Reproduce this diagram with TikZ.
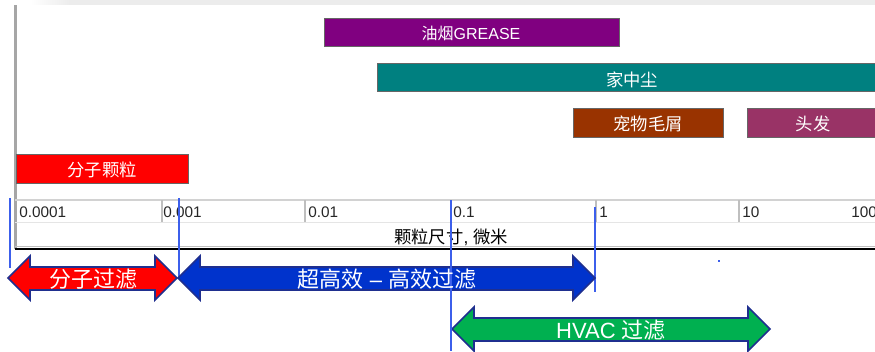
\documentclass[tikz,border=0pt]{standalone}
\usepackage{fontspec}
\setmainfont{Liberation Sans}
\newfontfamily\cjk{Noto Sans CJK SC}
\definecolor{greasecol}{RGB}{128,0,128}
\definecolor{dustcol}{RGB}{0,128,128}
\definecolor{dandercol}{RGB}{153,51,0}
\definecolor{haircol}{RGB}{153,51,102}
\definecolor{molcol}{RGB}{255,0,0}
\definecolor{hepacol}{RGB}{0,51,204}
\definecolor{hvaccol}{RGB}{0,176,80}
\definecolor{arrowrim}{RGB}{31,47,143}
\definecolor{guideblue}{RGB}{60,95,235}
\begin{document}
\begin{tikzpicture}[x=0.75pt,y=0.75pt,yscale=-1,xscale=1,
  bar/.style={draw=black!60, line width=0.7pt},
  bartext/.style={text=white, font=\fontsize{13}{15}\selectfont, inner sep=0pt},
  ticklabel/.style={anchor=west, font=\fontsize{11.5}{13}\selectfont, inner sep=0pt, text=black!85},
  band/.style={draw=arrowrim, line width=1.3pt, line join=miter},
  bandtext/.style={text=white, font=\fontsize{16.5}{19}\selectfont, inner sep=0pt},
  guide/.style={draw=guideblue, line width=0.9pt}]
\useasboundingbox (0,0) rectangle (875,351);
%Top band
\shade [left color=white, right color=gray!15] (30,0) rectangle (70,4.5) ;
\fill [gray!15] (70,0) rectangle (875,4.5) ;
%Straight Lines (axis)
\draw [gray!70, line width=2.2pt] (15.5,5) -- (15.5,249) ;
%Straight Lines (scale box)
\draw [gray!35, line width=1.5pt] (15,200) -- (875,200) ;
\draw [gray!20, line width=0.75pt] (15,222) -- (875,222) ;
\draw [gray!50, line width=0.75pt] (15,246.5) -- (875,246.5) ;
\draw [black, line width=1.5pt] (15,249) -- (875,249) ;
%Straight Lines (decade ticks)
\draw [gray!50, line width=0.9pt] (162,200) -- (162,222) ;
\draw [gray!50, line width=0.9pt] (305,200) -- (305,222) ;
\draw [gray!50, line width=0.9pt] (451,200) -- (451,222) ;
\draw [gray!50, line width=0.9pt] (596,200) -- (596,222) ;
\draw [gray!50, line width=0.9pt] (739,200) -- (739,222) ;
%Shape: Rectangle
\draw [bar, fill=greasecol] (324,18) rectangle (619,46) ;
%Shape: Rectangle
\draw [bar, fill=dustcol] (377,63) rectangle (876,91) ;
%Shape: Rectangle
\draw [bar, fill=dandercol] (573,108) rectangle (723,137) ;
%Shape: Rectangle
\draw [bar, fill=haircol] (747,108) rectangle (876,137) ;
%Shape: Rectangle
\draw [bar, fill=molcol] (16,154) rectangle (188,183) ;
% Text Node
\node [bartext, font=\fontsize{12}{14}\selectfont] (grease) at (471,33) {{\cjk 油烟}GREASE};
% Text Node
\node [bartext] (dust) at (632,80) {\cjk 家中尘};
% Text Node
\node [bartext] (dander) at (648,124) {\cjk 宠物毛屑};
% Text Node
\node [bartext] (hair) at (813,124) {\cjk 头发};
% Text Node
\node [bartext] (molecule) at (102,170) {\cjk 分子颗粒};
% Text Node
\node [ticklabel] (t0) at (19,212) {0.0001};
\node [ticklabel] (t1) at (163,212) {0.001};
\node [ticklabel] (t2) at (308,212) {0.01};
\node [ticklabel] (t3) at (453,212) {0.1};
\node [ticklabel] (t4) at (599,212) {1};
\node [ticklabel] (t5) at (742,212) {10};
\node [ticklabel] (t6) at (851,212) {100};
% Text Node
\node [font=\fontsize{13}{15}\selectfont, inner sep=0pt] (axislabel) at (451,237) {{\cjk 颗粒尺寸}, {\cjk 微米}};
%Straight Lines (guides)
\draw [guide] (10,198) -- (10,268) ;
\draw [guide] (179,198) -- (179,278) ;
\draw [guide] (595,207) -- (595,292) ;
%Shape: Left-Right Arrow
\draw [band, fill=molcol] (8,278) -- (30,256) -- (30,267) -- (155,267) -- (155,256) -- (177,278) -- (155,300) -- (155,290) -- (30,290) -- (30,300) -- cycle ;
%Shape: Left-Right Arrow
\draw [band, fill=hepacol] (178,278) -- (200,256) -- (200,267) -- (573,267) -- (573,256) -- (595,278) -- (573,300) -- (573,290) -- (200,290) -- (200,300) -- cycle ;
%Shape: Left-Right Arrow
\draw [band, fill=hvaccol] (452,329) -- (474,307) -- (474,318) -- (748,318) -- (748,307) -- (770,329) -- (748,351) -- (748,341) -- (474,341) -- (474,351) -- cycle ;
\draw [guide] (451,200) -- (451,351) ;
\fill [guideblue] (718,260) rectangle (720,262) ;
% Text Node
\node [bandtext] (molfilter) at (93,279) {\cjk 分子过滤};
% Text Node
\node [bandtext] (hepa) at (387,279) {{\cjk 超高效} – {\cjk 高效过滤}};
% Text Node
\node [bandtext] (hvac) at (611,330) {HVAC {\cjk 过滤}};
\end{tikzpicture}
\end{document}
